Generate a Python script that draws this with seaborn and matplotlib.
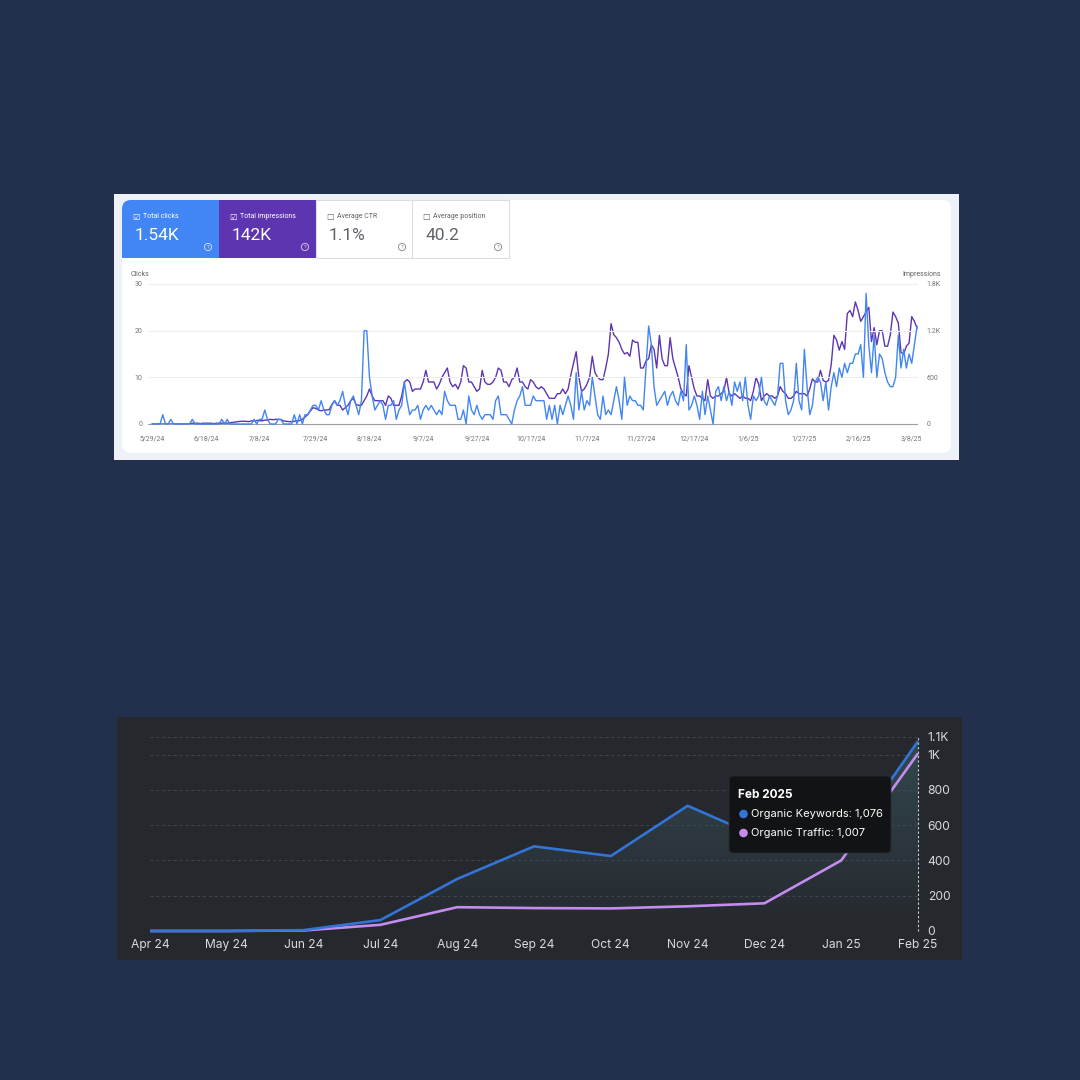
import numpy as np
import pandas as pd
import seaborn as sns
import matplotlib.pyplot as plt
from matplotlib.patches import FancyBboxPatch, Rectangle, Circle

# ---- top panel: search console (daily values)
clicks = [
    0, 0, 0, 0, 2, 0, 0, 1, 0, 0,
    0, 0, 0, 0, 0, 1, 0, 0, 0, 0,
    0, 0, 0, 0, 0, 0, 1, 0, 1, 0,
    0, 0, 0, 0, 0, 0, 0, 0, 1, 0,
    1, 1, 3, 1, 0, 0, 0, 1, 1, 0,
    0, 0, 0, 2, 0, 2, 0, 2, 2, 3,
    4, 4, 3, 5, 3, 2, 2, 4, 5, 4,
    5, 7, 4, 2, 5, 6, 4, 2, 5, 20,
    20, 10, 6, 3, 4, 5, 4, 1, 4, 4,
    5, 1, 3, 4, 9, 5, 2, 3, 3, 4,
    1, 3, 4, 3, 4, 3, 2, 3, 2, 7,
    5, 4, 4, 4, 1, 1, 3, 0, 6, 3,
    2, 4, 2, 1, 2, 2, 2, 1, 5, 6,
    2, 2, 2, 1, 0, 3, 5, 6, 8, 4,
    4, 4, 6, 5, 5, 5, 5, 1, 4, 1,
    4, 0, 4, 2, 4, 6, 4, 1, 11, 3,
    7, 3, 5, 4, 10, 6, 2, 1, 6, 2,
    3, 2, 5, 8, 5, 1, 10, 4, 6, 5,
    5, 4, 4, 3, 12, 21, 17, 8, 4, 5,
    6, 7, 4, 6, 7, 5, 4, 7, 5, 17,
    3, 4, 6, 4, 1, 7, 2, 6, 3, 0,
    7, 8, 5, 8, 5, 7, 4, 9, 7, 9,
    5, 10, 4, 1, 6, 5, 6, 10, 5, 4,
    6, 5, 4, 6, 13, 13, 5, 2, 3, 5,
    13, 5, 3, 16, 8, 2, 4, 9, 10, 9,
    5, 9, 3, 8, 11, 8, 12, 10, 13, 11,
    13, 13, 15, 15, 17, 10, 28, 17, 11, 19,
    10, 15, 14, 11, 9, 8, 8, 10, 19, 12,
    16, 12, 15, 13, 17, 21,
]
impressions = [
    0, 0, 0, 0, 0, 0, 0, 0, 0, 0,
    0, 0, 0, 0, 0, 10, 10, 10, 5, 10,
    10, 10, 10, 5, 10, 10, 10, 15, 10, 15,
    20, 25, 30, 35, 35, 35, 30, 40, 40, 45,
    45, 40, 50, 50, 60, 55, 60, 60, 55, 40,
    35, 30, 30, 35, 40, 45, 60, 90, 120, 170,
    210, 200, 180, 170, 180, 180, 185, 250, 300, 240,
    240, 180, 210, 240, 300, 330, 250, 240, 240, 300,
    360, 450, 360, 300, 300, 300, 300, 240, 360, 330,
    240, 240, 240, 360, 540, 570, 540, 420, 450, 450,
    450, 540, 690, 540, 540, 540, 450, 510, 600, 660,
    720, 540, 480, 510, 450, 540, 750, 720, 540, 540,
    480, 420, 450, 690, 540, 510, 510, 540, 600, 720,
    690, 540, 540, 480, 570, 600, 720, 540, 540, 480,
    450, 570, 540, 480, 450, 480, 450, 390, 330, 330,
    330, 390, 390, 450, 390, 450, 630, 780, 930, 600,
    420, 450, 510, 600, 870, 660, 600, 570, 570, 720,
    900, 1290, 1150, 1110, 1050, 960, 900, 920, 870, 1080,
    1050, 1050, 720, 720, 810, 840, 1020, 960, 720, 1140,
    840, 750, 750, 1110, 840, 720, 600, 450, 390, 360,
    750, 600, 450, 360, 360, 330, 300, 570, 360, 330,
    360, 360, 390, 420, 600, 390, 360, 390, 360, 330,
    360, 330, 330, 300, 420, 600, 510, 300, 360, 390,
    360, 360, 330, 360, 480, 420, 390, 330, 330, 360,
    420, 390, 390, 390, 360, 450, 580, 540, 540, 690,
    560, 540, 560, 760, 1140, 1080, 950, 1060, 960, 1420,
    1460, 1380, 1570, 1460, 1320, 1380, 1440, 1500, 1060, 1240,
    1020, 1200, 1200, 1000, 1000, 1140, 1440, 1380, 1300, 920,
    900, 1000, 1040, 1380, 1320, 1230,
]
start_date = "2024-05-29"
date_ticks = ["2024-05-29", "2024-06-18", "2024-07-08", "2024-07-29", "2024-08-18",
              "2024-09-07", "2024-09-27", "2024-10-17", "2024-11-07", "2024-11-27",
              "2024-12-17", "2025-01-06", "2025-01-27", "2025-02-16", "2025-03-08"]
date_labels = ["5/29/24", "6/18/24", "7/8/24", "7/29/24", "8/18/24", "9/7/24", "9/27/24",
               "10/17/24", "11/7/24", "11/27/24", "12/17/24", "1/6/25", "1/27/25",
               "2/16/25", "3/8/25"]
clicks_ticks = [0, 10, 20, 30]
impr_ticks = [0, 600, 1200, 1800]
impr_labels = ["0", "600", "1.2K", "1.8K"]

tile_labels = ["Total clicks", "Total impressions", "Average CTR", "Average position"]
tile_values = ["1.54K", "142K", "1.1%", "40.2"]
tile_checked = [True, True, False, False]

# ---- bottom panel: organic keywords / traffic
months = ["Apr 24", "May 24", "Jun 24", "Jul 24", "Aug 24", "Sep 24",
          "Oct 24", "Nov 24", "Dec 24", "Jan 25", "Feb 25"]
organic_keywords = [0, 0, 5, 62, 295, 480, 425, 710, 520, 455, 1076]
organic_traffic = [0, 0, 3, 35, 135, 130, 128, 140, 157, 400, 1007]
kw_ticks = [0, 200, 400, 600, 800, 1000, 1100]
kw_labels = ["0", "200", "400", "600", "800", "1K", "1.1K"]

NAVY = "#22304d"
G_BLUE = "#4285f4"
G_PURPLE = "#5e35b1"
K_BLUE = "#3474d6"
K_PURPLE = "#c48cef"
W = H = 1080


def px_rect(x0, y0, x1, y1):
    return [x0 / W, 1 - y1 / H, (x1 - x0) / W, (y1 - y0) / H]


sns.set_style("white")
plt.rcParams["font.family"] = ["Roboto", "DejaVu Sans"]

fig = plt.figure(figsize=(10.8, 10.8), dpi=100, facecolor=NAVY)

bg = fig.add_axes([0, 0, 1, 1], zorder=0)
bg.set_xlim(0, W)
bg.set_ylim(H, 0)
bg.axis("off")

# search console card
bg.add_patch(Rectangle((114, 194), 845, 266, fc="#eef1f7", ec="none"))
bg.add_patch(FancyBboxPatch((122, 200), 829, 253, boxstyle="round,pad=0,rounding_size=9",
                            fc="white", ec="none"))

tile_x = [122, 219, 316, 412]
tile_fc = [G_BLUE, G_PURPLE, "white", "white"]
for i in range(4):
    x0 = tile_x[i]
    if i == 0:
        bg.add_patch(FancyBboxPatch((x0, 200), 97, 58, boxstyle="round,pad=0,rounding_size=9",
                                    fc=tile_fc[i], ec="none"))
        bg.add_patch(Rectangle((x0 + 12, 200), 85, 58, fc=tile_fc[i], ec="none"))
        bg.add_patch(Rectangle((x0, 215), 97, 43, fc=tile_fc[i], ec="none"))
    else:
        bg.add_patch(Rectangle((x0, 200), 97, 58, fc=tile_fc[i],
                               ec="none" if tile_checked[i] else "#dadce0", lw=0.8))
    tc = "white" if tile_checked[i] else "#5f6368"
    box = "\u2611" if tile_checked[i] else "\u2610"
    bg.text(x0 + 14, 217, box, color=tc, fontsize=6, ha="center", va="center",
            family=["DejaVu Sans"])
    bg.text(x0 + 21, 216.5, tile_labels[i], color=tc, fontsize=5, ha="left", va="center")
    bg.text(x0 + 13, 236, tile_values[i], color=tc, fontsize=12.5, ha="left", va="center")
    bg.add_patch(Circle((x0 + 86, 247), 3.6, fc="none", ec=tc, lw=0.6, alpha=0.8))
    bg.text(x0 + 86, 247.3, "?", color=tc, fontsize=4, ha="center", va="center", alpha=0.8)

bg.text(131, 274, "Clicks", color="#5f6368", fontsize=5, ha="left", va="center")
bg.text(941, 275, "Impressions", color="#5f6368", fontsize=5, ha="right", va="center")

# bottom dark panel
bg.add_patch(Rectangle((117, 717), 845, 243, fc="#25282d", ec="none"))

# ---- top chart
dates = pd.date_range(start_date, periods=len(clicks), freq="D")
ax1 = fig.add_axes(px_rect(148, 280, 918, 427), zorder=2)
ax2 = ax1.twinx()
ax1.set_zorder(3)
ax2.set_zorder(2)
ax1.patch.set_visible(False)
ax2.patch.set_visible(False)

sns.lineplot(x=dates, y=impressions, ax=ax2, color=G_PURPLE, linewidth=1.0)
sns.lineplot(x=dates, y=clicks, ax=ax1, color=G_BLUE, linewidth=1.0)

x_lo = dates[0] - pd.Timedelta(hours=36)
x_hi = dates[-1] + pd.Timedelta(hours=8)
ax1.set_xlim(x_lo, x_hi)
ylo, yhi = -0.643, 30.857
ax1.set_ylim(ylo, yhi)
ax2.set_ylim(ylo * 60, yhi * 60)

ax1.set_yticks(clicks_ticks)
ax1.set_yticklabels([str(v) for v in clicks_ticks])
ax2.set_yticks(impr_ticks)
ax2.set_yticklabels(impr_labels)
ax1.set_xticks(pd.to_datetime(date_ticks))
ax1.set_xticklabels(date_labels)
for a in (ax1, ax2):
    for s in a.spines.values():
        s.set_visible(False)
    a.set_xlabel("")
    a.set_ylabel("")
ax1.tick_params(axis="y", length=0, labelsize=5, labelcolor="#70757a", pad=4)
ax2.tick_params(axis="y", length=0, labelsize=5, labelcolor="#70757a", pad=6)
ax1.tick_params(axis="x", length=0, labelsize=5, labelcolor="#70757a", pad=6)
for v in clicks_ticks[1:]:
    ax1.axhline(v, color="#eeeeee", lw=0.8, zorder=0)
ax1.axhline(0, color="#9aa0a6", lw=0.8, zorder=1)

# ---- bottom chart
ax3 = fig.add_axes(px_rect(150, 731, 918, 935), zorder=2)
ax3.patch.set_visible(False)
xi = np.arange(len(months))

for v in kw_ticks[1:]:
    ax3.axhline(v, color="#43464c", lw=0.7, ls=(0, (3, 3)), zorder=0)

fill = ax3.fill_between(xi, organic_keywords, 0, color="none", lw=0)
grad = np.zeros((100, 1, 4))
grad[:, 0, 0] = 0.21
grad[:, 0, 1] = 0.30
grad[:, 0, 2] = 0.33
grad[:, 0, 3] = np.linspace(0.0, 0.9, 100)
im = ax3.imshow(grad, extent=[0, 10, 0, 1100], aspect="auto", origin="lower", zorder=1)
im.set_clip_path(fill.get_paths()[0], transform=ax3.transData)

ax3.plot([10, 10], [0, 1100], color="#cfd2d6", lw=0.8, ls=(0, (2, 2)), zorder=2,
         clip_on=False)

sns.lineplot(x=xi, y=organic_traffic, ax=ax3, color=K_PURPLE, linewidth=1.9)
sns.lineplot(x=xi, y=organic_keywords, ax=ax3, color=K_BLUE, linewidth=1.9)
for ln in ax3.lines:
    ln.set_clip_on(False)
    ln.set_solid_capstyle("butt")

ax3.set_xlim(0, 10)
ax3.set_ylim(-22.7, 1134)
ax3.set_xticks(xi)
ax3.set_xticklabels(months, family=["Inter", "DejaVu Sans"])
ax3.yaxis.tick_right()
ax3.set_yticks(kw_ticks)
ax3.set_yticklabels(kw_labels, family=["Inter", "DejaVu Sans"])
ax3.tick_params(axis="x", length=0, labelsize=8.7, labelcolor="#d8dadd", pad=3)
ax3.tick_params(axis="y", length=0, labelsize=8.7, labelcolor="#d8dadd", pad=7)
ax3.set_xlabel("")
ax3.set_ylabel("")
for s in ax3.spines.values():
    s.set_visible(False)

# tooltip overlay
ov = fig.add_axes([0, 0, 1, 1], zorder=10)
ov.set_xlim(0, W)
ov.set_ylim(H, 0)
ov.axis("off")
ov.add_patch(FancyBboxPatch((729, 776), 162, 77, boxstyle="round,pad=0,rounding_size=4",
                            fc="#121315", ec="#2b2d31", lw=0.6))
tfont = ["Inter", "DejaVu Sans"]
ov.text(738, 795, "Feb 2025", color="white", fontsize=8.5, fontweight="bold",
        ha="left", va="center", family=tfont)
ov.add_patch(Circle((743.5, 814), 4.3, fc=K_BLUE, ec="none"))
ov.add_patch(Circle((743.5, 833), 4.3, fc=K_PURPLE, ec="none"))
ov.text(751, 814, f"Organic Keywords: {organic_keywords[-1]:,}", color="white", fontsize=8,
        ha="left", va="center", family=tfont)
ov.text(751, 833, f"Organic Traffic: {organic_traffic[-1]:,}", color="white", fontsize=8,
        ha="left", va="center", family=tfont)

assert len(clicks) == len(impressions)
fig.savefig("out.png", dpi=100, facecolor=NAVY)
